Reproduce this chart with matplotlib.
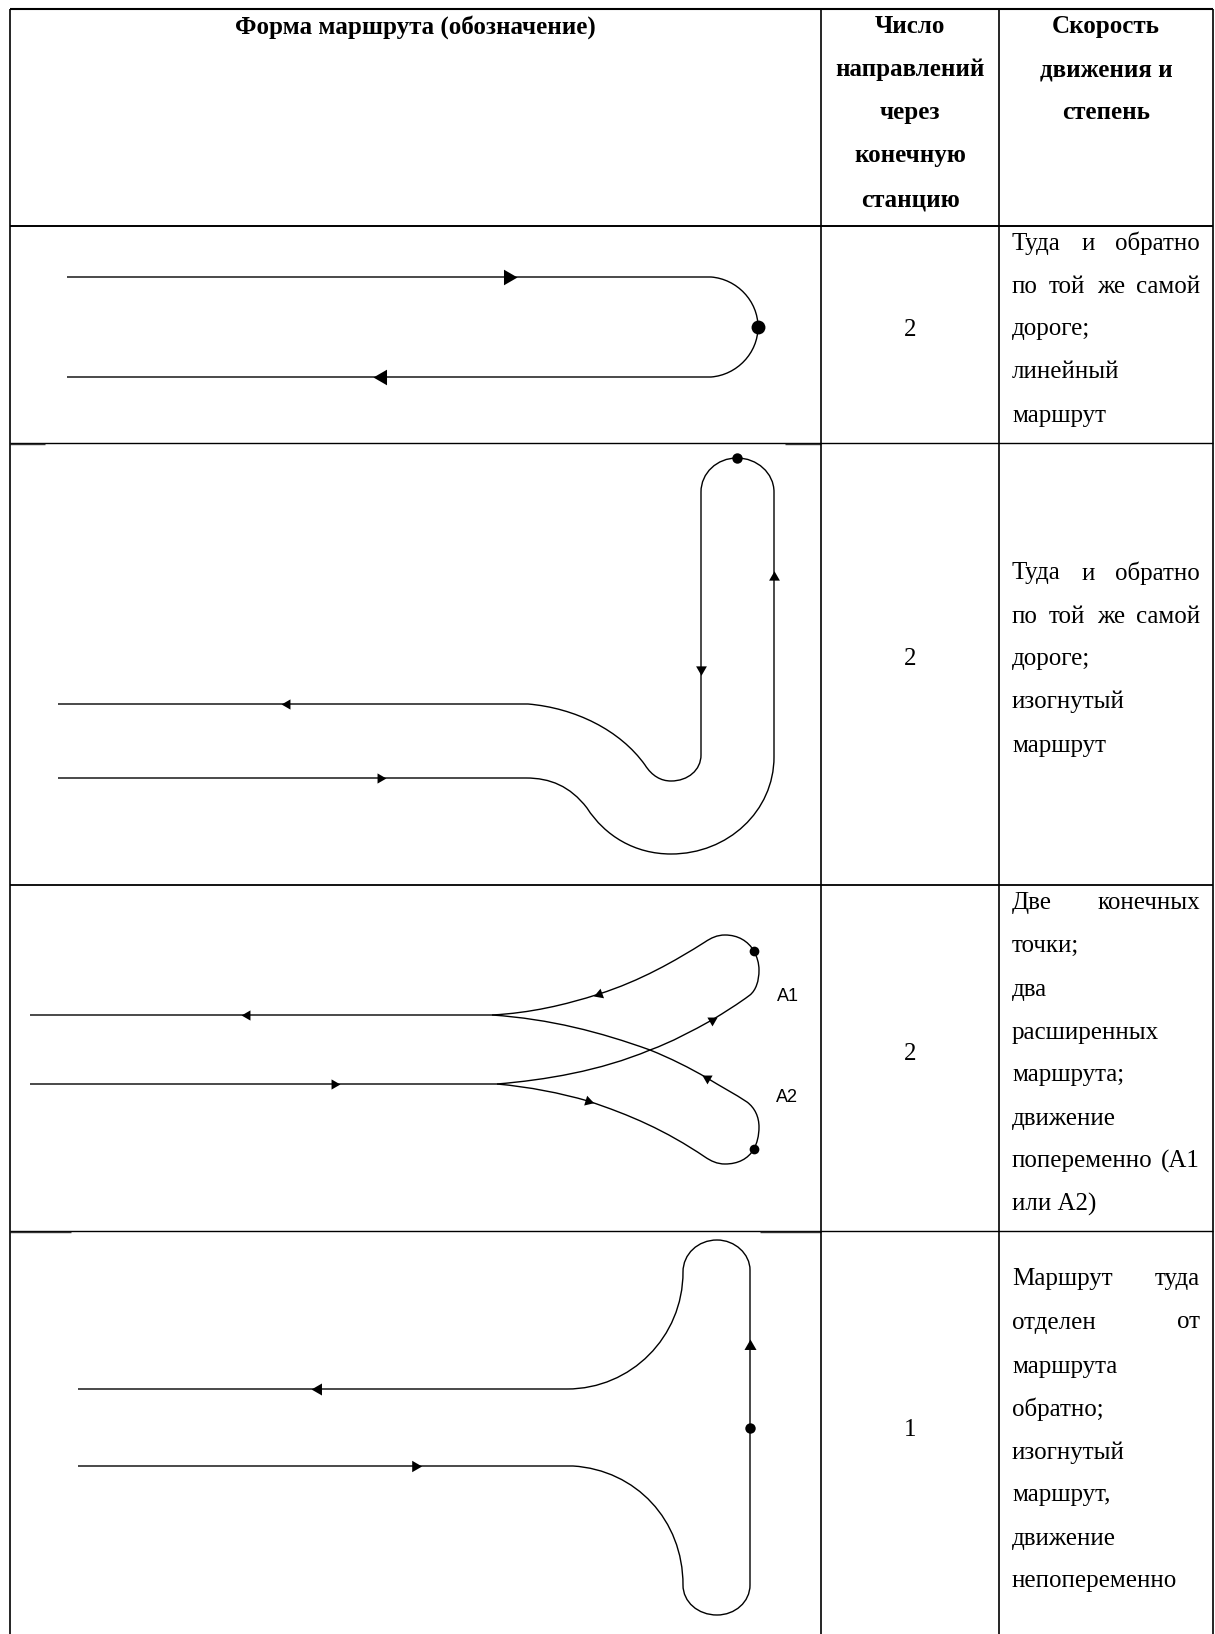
import matplotlib
matplotlib.use("Agg")
import matplotlib.pyplot as plt
from matplotlib.path import Path
from matplotlib.patches import PathPatch

W, H = 1215, 1634
SERIF = "Liberation Serif"
LABEL_FONT = "Liberation Sans"

# ---- table structure ----
col_lines = [10, 821, 999, 1213]
row_lines = [9, 226, 443, 885, 1231]
row_line_widths = [1.5, 1.4, 1.0, 1.3, 1.0]
line_stubs = [(10, 45, 443.7), (785, 821, 443.7), (10, 71, 1231.7), (760, 821, 1231.7)]

header_main = "Форма маршрута (обозначение)"
header_dirs = ["Число", "направлений", "через", "конечную", "станцию"]
header_speed = ["Скорость", "движения и", "степень"]
header_y = [24, 67, 110, 153, 197]

row_numbers = ["2", "2", "2", "1"]
row_number_y = [327, 656, 1051, 1427]

row1_text = [("Туда и обратно", True), ("по той же самой", True), ("дороге;", False),
             ("линейный", False), ("маршрут", False)]
row1_y = [241, 284, 326, 369, 413]
row2_text = [("Туда и обратно", True), ("по той же самой", True), ("дороге;", False),
             ("изогнутый", False), ("маршрут", False)]
row2_y = [571, 614, 656, 699, 743]
row3_text = [("Две конечных", True), ("точки;", False), ("два", False), ("расширенных", False),
             ("маршрута;", False), ("движение", False), ("попеременно (А1", True), ("или А2)", False)]
row3_y = [900, 943, 987, 1031, 1073, 1116, 1159, 1202]
row4_text = [("Маршрут туда", True), ("отделен от", True), ("маршрута", False), ("обратно;", False),
             ("изогнутый", False), ("маршрут,", False), ("движение", False), ("непопеременно", False)]
row4_y = [1277, 1320, 1364, 1407, 1450, 1493, 1536, 1579]

# ---- route shapes: start point, then 'L' (x,y) or 'C' (c1x,c1y,c2x,c2y,x,y) ----
route1 = [(67, 277), ('L', 711, 277),
          ('C', 737, 279, 758, 301, 758, 327),
          ('C', 758, 353, 737, 375, 711, 377),
          ('L', 67, 377)]
route2 = [(58, 704), ('L', 528, 704),
          ('C', 575, 708, 620, 730, 645, 765),
          ('C', 652, 776, 661, 781, 671, 781),
          ('C', 688, 781, 701, 770, 701, 755),
          ('L', 701, 492),
          ('C', 701, 473, 717, 458, 737, 458),
          ('C', 757, 458, 774, 473, 774, 492),
          ('L', 774, 757),
          ('C', 774, 811, 728, 854, 671, 854),
          ('C', 635, 854, 605, 836, 587, 808),
          ('C', 570, 786, 550, 778, 526, 778),
          ('L', 58, 778)]
route3a = [(30, 1015), ('L', 492, 1015),
           ('C', 530, 1013, 565, 1005, 599, 994),
           ('C', 640, 981, 675, 961, 705, 942),
           ('C', 711, 938, 717, 935, 725, 935),
           ('C', 738, 935, 748, 941, 754, 951),
           ('C', 757, 957, 759, 963, 759, 970),
           ('C', 759, 981, 756, 990, 750, 995),
           ('C', 738, 1004, 725, 1012, 712, 1020),
           ('C', 692, 1031, 672, 1042, 650, 1050),
           ('C', 600, 1071, 545, 1080, 497, 1084),
           ('L', 30, 1084)]
route3b = [(492, 1015),
           ('C', 550, 1019, 600, 1032, 650, 1050),
           ('C', 670, 1058, 690, 1068, 707, 1078),
           ('C', 720, 1086, 735, 1094, 747, 1102),
           ('C', 755, 1108, 759, 1117, 759, 1127),
           ('C', 759, 1136, 757, 1143, 754, 1149),
           ('C', 748, 1159, 738, 1164, 725, 1164),
           ('C', 717, 1164, 711, 1161, 705, 1157),
           ('C', 665, 1130, 630, 1115, 588, 1101),
           ('C', 560, 1093, 530, 1087, 497, 1084)]
route4 = [(78, 1389), ('L', 567, 1389),
          ('C', 631, 1389, 683, 1337, 683, 1272),
          ('C', 683, 1254, 698, 1240, 717, 1240),
          ('C', 735, 1240, 750, 1254, 750, 1270),
          ('L', 750, 1585),
          ('C', 750, 1602, 735, 1615, 717, 1615),
          ('C', 698, 1615, 683, 1602, 683, 1585),
          ('C', 683, 1520, 636, 1470, 573, 1466),
          ('L', 78, 1466)]
routes = [route1, route2, route3a, route3b, route4]

# ---- arrows: position and heading in degrees (0 = right, 90 = up) ----
arrow_x = [508, 382, 287, 380, 701, 774, 247, 334, 599, 712, 707, 588, 318, 415, 750]
arrow_y = [277, 377, 704, 778, 669, 577, 1015, 1084, 994, 1020, 1078, 1101, 1389, 1466, 1346]
arrow_heading = [0, 180, 180, 0, 270, 90, 180, 0, 200, 30, 150, 343, 180, 0, 90]
arrow_size = [13, 13, 8.5, 8.5, 9, 9, 8.5, 8.5, 8.5, 8.5, 8.5, 8.5, 10, 9.5, 10]

# ---- stations ----
dot_x = [758, 737, 754, 754, 750]
dot_y = [327, 458, 951, 1149, 1428]
dot_size = [10, 7.5, 7, 7, 7.5]

labels = ["A1", "A2"]
label_x = [788, 787]
label_y = [996, 1098]

fig = plt.figure(figsize=(W / 100, H / 100), dpi=100, facecolor="white")
ax = fig.add_axes([0, 0, 1, 1])
ax.set_xlim(0, W)
ax.set_ylim(H, 0)
ax.axis("off")

# table grid
for y, lw in zip(row_lines, row_line_widths):
    ax.plot([col_lines[0], col_lines[-1]], [y, y], color="black", lw=lw, solid_capstyle="butt")
for x0, x1, y in line_stubs:
    ax.plot([x0, x1], [y, y], color="#333333", lw=1.0, solid_capstyle="butt")
for x in col_lines:
    ax.plot([x, x], [row_lines[0], H], color="black", lw=1.2, solid_capstyle="butt")

# routes
for route in routes:
    verts, codes = [route[0]], [Path.MOVETO]
    for seg in route[1:]:
        if seg[0] == 'L':
            verts.append(seg[1:3]); codes.append(Path.LINETO)
        else:
            verts += [seg[1:3], seg[3:5], seg[5:7]]
            codes += [Path.CURVE4] * 3
    ax.add_patch(PathPatch(Path(verts, codes), fc="none", ec="black", lw=1.0))

for x, y, h, s in zip(arrow_x, arrow_y, arrow_heading, arrow_size):
    ax.plot([x], [y], marker=(3, 0, h - 90), ms=s, color="black", mew=0, ls="none")
for x, y, s in zip(dot_x, dot_y, dot_size):
    ax.plot([x], [y], marker="o", ms=s, color="black", mew=0, ls="none")

for t, x, y in zip(labels, label_x, label_y):
    ax.text(x, y, t, family=LABEL_FONT, fontsize=13, ha="center", va="center")

FS = 18
def txt(x, y, s, ha="left", weight="normal"):
    return ax.text(x, y, s, family=SERIF, fontsize=FS, ha=ha, va="center_baseline",
                   weight=weight, color="black")

# header
txt(415, 24, header_main, ha="center", weight="bold")
for s, y in zip(header_dirs, header_y):
    txt(910, y, s, ha="center", weight="bold")
for s, y in zip(header_speed, header_y):
    txt(1106, y, s, ha="center", weight="bold")
for s, y in zip(row_numbers, row_number_y):
    txt(910, y, s, ha="center")

# justified description column
LEFT, RIGHT = 1012, 1200
renderer = fig.canvas.get_renderer()
for lines, ys in [(row1_text, row1_y), (row2_text, row2_y), (row3_text, row3_y), (row4_text, row4_y)]:
    for (s, just), y in zip(lines, ys):
        if not just:
            txt(LEFT, y, s)
            continue
        words = s.split(" ")
        items = [txt(LEFT, y, w) for w in words]
        widths = [it.get_window_extent(renderer).width for it in items]
        gap = (RIGHT - LEFT - sum(widths)) / (len(words) - 1)
        x = LEFT
        for it, wd in zip(items, widths):
            it.set_x(x)
            x += wd + gap

fig.savefig("out.png", dpi=100, facecolor="white")
